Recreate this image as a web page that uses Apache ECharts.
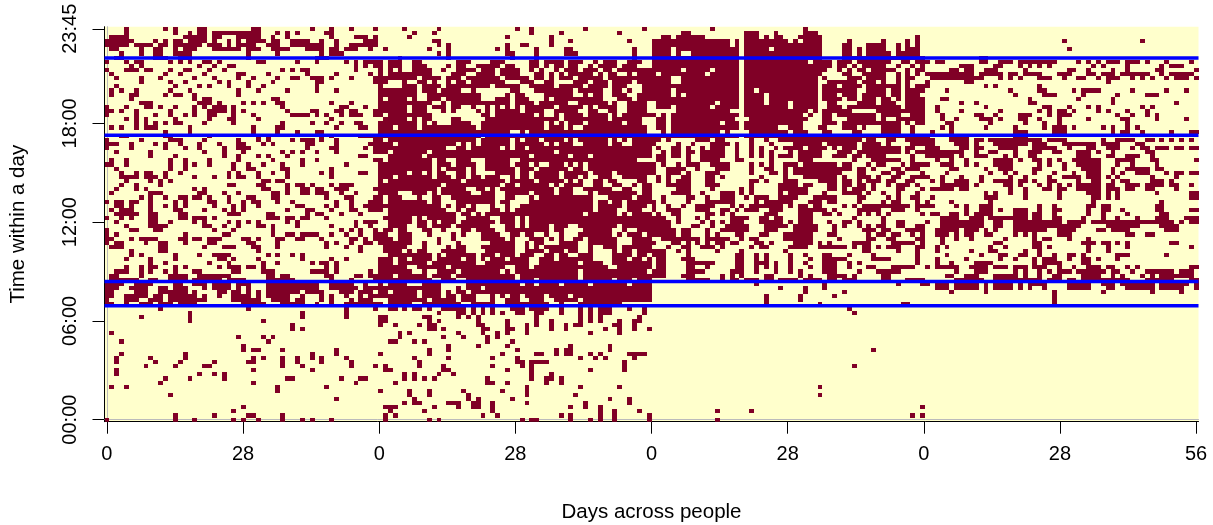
<!DOCTYPE html>
<html><head><meta charset="utf-8">
<script src="https://cdn.jsdelivr.net/npm/echarts@6/dist/echarts.min.js"></script>
<style>html,body{margin:0;padding:0;background:#fff}#c{width:1213px;height:525px}</style>
</head><body><div id="c"></div>
<script>
const xTickValues=[0,28,56,84,112,140,168,196,224];
const xTickLabels=["0","28","0","28","0","28","0","28","56"];
const yTickValues=[0,24,48,72,95];
const yTickLabels=["00:00","06:00","12:00","18:00","23:45"];
const blueLevels=[87.9,69.1,33.55,27.7];
// Dark cells of each row, top row (23:45) first, as column runs.
const darkRows=[
"4 12 14 19-20 30-31 42 46 50 55 61 68 84 87 98 110 124 143",
"4 14 17 19-20 22-31 35 37 39 45-46 63 67 87 93 105 118-119 131-133 137 143-145",
"1-4 16-20 22-23 27-31 34 37 46 51-53 55 62 82 91 114-115 117-122 131-133 135 137-138 142-146 166",
"0-5 10 12 14-15 17-20 22 25 27 29-32 34-35 38-41 44 47 53-55 67-68 91 95 107 112-127 129 131-139 141 143-146 152 159 164 166 196 212",
"0-4 6-9 11-12 14-19 21-23 25 27-30 33-35 38-44 47 50-55 68 70 82 85-86 91 112-127 129 131-146 151-152 156-159 162 164 166",
"1-2 7 10-11 14 16-18 22-27 29-31 34-37 41-44 46-47 49-51 54 57 66 70 80 82 88 94-95 108 112-115 117-129 131-135 137-146 151-152 154 156-159 162 164-166 197",
"3 7 10-11 14-17 29 35 44 46-48 68 70 82-83 88 94-96 108 112-115 117 120-129 131-146 151-152 154 156-160 162-166",
"2-3 10-12 15-17 29 43-45 60 70 83 88 108 112-129 131-146 151-167 179-180",
"0 4 6-7 13 15 17 20-21 23 31-32 39 43 49 51 53-55 56-168 170-171 179-180 183-185 187-194 199 201 203 205-207 209-211 213 217 222",
"5 7 19 22 25-26 51 53 55 56-168 175-177 182-183 187 189 191 193 202 204 209 216 218-220",
"0 4-6 8-9 13 16-17 21 24 36 38 40-41 51 56-168 173-174 176-177 180-182 188 197-198 201 206 209 215-216 223",
"1 12 15 20 27-28 33 41 47 54 56-168 169-177 179-183 185-186 188-191 195-197 201-202 204-206 208-213 216 218-222",
"2 7 11 18 22 27 30 35 38-39 42-44 46 50 55 56-168 169-179 183 185 187 191-193 196 199-200 203 205-207 210 212 214 217 219-221 223",
"7 13 16 23 25 29 34 43-44 55 56-168 176-177 205",
"2 14 19 21 25 29 32 43 56-168 180 182 191",
"1 3 6 13 17 27 31 37 43 47 56-168 172 185 191-192 198 200-203 210 217 221",
"1 5-6 12 14-15 18 27 56-168 186 192-194 200 207 213-215",
"5 18 20-21 34-35 56-168 171-172 189 199 206",
"7-9 19-21 23 28 30 32 35-36 46 50 56-168 175 178 189-190 206 219",
"0 4 8-9 11 14 18 20 22-24 26 36 48-49 53 56-168 170 180 192-193 197 201 203 212 214",
"0-1 3 6 13 18 21-24 26 28 37 42-43 47-48 50-51 55 56-168 170 175 183 191 193 195-196 198 203 205 209 213",
"0 6 10 13 16 18 21-22 26 30 38-41 43 45 48 50-52 55 56-168 171 178-179 182 187-189 193 195-197 207 210 213 215",
"4 6 8 14 21 25-26 31 46 56-168 171 174 179-181 183 187-188 191 195 201 208-209 215 221",
"6 8 10 12 14-15 20 26 36 42 45 48 51-52 56-168 172-173 181 188 192 195 209",
"1 3 6 8-10 17 30 35-36 47 52-53 56-168 171 173 180 186 192 194-196 198 204 206 209 211",
"12 17 30 35 39 43-44 56-169 173 186-188 194-196 206 208-209 212 218 222-223",
"3-4 12-13 21 31 33 44 46 52-55 56-168 173-176 186-188",
"0 7 13-15 20 27 31 33 38 40-42 44 47 55 56-169 173-176 178-179 181-191 193-196 204 207-210 213-214 216 218 220 222",
"0-2 5 10 12 15 19 23 27-28 32 34 41-42 47 54-55 56-169 174-176 178 182-188 190-192 196-202 204-207 211-212",
"0 5 12 16 19 24 27-29 41 46-47 53 55 56-170 175-176 178-179 183-186 190-194 197 201-202 205-207 210 212-213 215-217 219-220 222-223",
"2 9 20 24 28 36 38 40 43 47 55 56-175 178 181-182 186 189-191 194-195 199-201 203 206 213-214",
"9 14 24 27 31 33 37 52-53 56-173 175 178-180 184 186 189-190 199-201 205-206 209-211 214",
"1 4 13 16 21 27 34 40 43 55 56-168 170 173 176 182-185 187 190-191 193 195 198-203 207-210 214-215 223",
"0-1 4 13 16 18 21 26 29 32 36 40 49 56-168 171-173 176 178 182-185 191 193 196 199-203 207 210 215",
"2 13 16 26 29-30 36-37 46 56-168 173-174 180 183-185 190-191 196 200-203 206 209-213 215-216",
"3 6 8-9 12 15 25 27 31 34 37 44 46 52-53 56-168 172 181 184 186 190 194 198 201-203 206 208 211-213 217 219-220 222-223",
"3-6 8-10 12 18 22 25 27-28 31 37 46 56-168 171 175 179 185 188 193 196-199 201-203 205 207 214 219",
"4 9 11 13 32-33 35-36 56-169 171 174-176 179 182-185 187-188 190 193-194 199 202-203 206 208-209 214-216 218",
"3 6 11 25-26 31-32 37 39-40 42 46 48-50 56-168 171-176 178 184-185 187 191 193 195 197 199-203 205-206 209-211 213-216 218-219 222",
"2 6 8 18 20 32-33 37 40-41 43-44 47-49 55 56-173 175-176 185 188 192-193 195-196 199-203 205-207 209-210 213-214 219",
"1 9-11 19-20 24 27 34-35 37 40-41 43-45 48 51 56-168 180 182 185 188 195 201-203 205 207 215 222-223",
"7 9 12 15-16 18-19 21 25 29-30 34-35 45 49-50 55 56-169 180-182 188 195 202-203 205 207 222-223",
"0 2-3 5-6 9 14 16 21-22 25 28 30-31 35 38 47 50 54-55 56-168 173 181 202 216",
"2-3 5 9 12 14 16 22 26 28 31 39-40 45 47 50 53-55 56-169 174 176 179-181 191 194 201-202 204-205 215-216",
"1 3-5 9 14-15 20 24 26 28 37 41-42 46 50-51 54-55 56-168 176 179-181 183 186-188 191 194-195 201 204-205 208 215-216 222-223",
"2-6 9-10 15-16 25-27 33-34 41 43-44 48 52 56-170 173-174 176 178-181 186-188 190-191 194 201 204 209 216-217",
"0 3 5 9-10 15-16 18-20 22 33-35 37-38 40-41 45 56-168 171-174 177-179 181-184 185-188 190-191 194-195 200 204 207 211 215-217 221-223",
"2 9-10 13 18 20 25 27 29 31 37 39 51 53-55 56-168 171-179 182-183 186-195 197-200 202-214 215-218 220 222-223",
"4 9-12 20-21 24 27 31-32 34 39 46 51 54 56-168 171-179 182-183 186-199 205-211 216-219",
"0 5-6 10-11 22 26 34 48 50 52 55 56-168 170-174 176-178 180 182 186-192 195-198 203-204 206-209 217-219",
"0 2 16 24-25 34 37-38 40-43 46 49 52 55 56-168 170-172 174 176-177 180-181 186 188 190 195-197 209-210 213-214",
"0-1 5 7-10 15-16 18-19 21-23 28-29 31 35-36 39-40 44 50-51 53 55 56-167 171 174 177 184 190 192-193 197 201",
"0 2-3 8 11-12 16 21-22 29-30 35 45 47 50 53-54 56-167 171 182-183 190-191 200-202 204-205 207 209 218-219",
"1-3 11-12 20 24-26 30-31 35 45 49 52 56-167 170 172 181 184 190-191 193 201 205 209 222",
"5 11-12 31 52 56-114 117 119 125 130 139 155-156 162 166 170 177 181-182 188 191 201 205",
"5 7 14 19 22-25 33 35 38 40 56-114 119 129-130 133 135 140 143 147-148 152 157 166 172 179 183-184 187-188 191 194 197-198 200 207-209 217",
"4 9 14 23-24 26 31 40 46 49 56-111 113-114 118-120 129-130 133 135 140 144 147-151 157-160 166 170 176 183 186 190 192-194 197 200-201 203 207",
"9 12 21 25 32 35 42 44-45 47 56-111 113-114 119-124 129-130 133-135 137 140 143 147-149 152 154 166 170 173 178-181 190 192-195 200-201",
"4 7 9-10 14 16 23 25-27 29-30 32 45 47 56-111 113-114 119-120 123 129-130 133 135 137 140 144 147-149 152 156-157 161-165 168 170-174 177-180 182-184 186-188 190-192 195 198 201-203 205-206 209 211 222-223",
"2-4 7 9 12 14 18-19 26-27 32-34 42-45 47 54 56-111 112-114 119-122 128-130 133 137 140 142 147-149 154 158-162 174 178-180 186 188 191 193 195-197 199-204 206-207 210 213-218 220-222",
"1-2 7 13-16 19-25 33-34 36-37 45-46 51-52 54-55 56-114 118-120 126 128 130 135-136 142 144 148-151 153 159-160 172-173 176-178 182-186 188 191 194-195 200-203 206 208 212 214 216-222",
"1-6 9-10 13-16 18-23 25-28 33-38 46 50 55 56-111 119-123 126 128-129 131-133 135-136 138-141 143-146 148-149 151-153 159-160 164-167 174-179 182-191 193-195 197-198 200-209 213-218 222-223",
"0-3 6-9 14-15 18-20 22-25 27-29 33-43 46-50 53 56-111 133 147 162 167-168 170-172 174-178 180 182-185 187 189-192 197-201 204-206 208-214 216-221 223",
"0-2 5-8 11-12 14-16 20 22-25 27 29 33-43 46-51 53-55 56-111 138 143 147 170-172 174-178 180 182-185 187 189 192 197-201 205-206 209-214 216-220 223",
"0-1 6-8 11-16 18 23-24 26-27 29 31 33-39 41-44 48-50 52-54 56-111 143 151 173 180 194 204 214 220",
"0-1 4-8 10-11 13-18 20 23 26-29 31 33-37 40 44 46 49 52 54-55 56-111 135 142 149 194",
"0 4-6 9-11 13-19 20 26-31 34-37 39-40 44 46 50 52-54 58-71 73-77 79 82-85 87-90 92-110 111 135 142 194",
"0-1 4 7-9 11-13 15-18 28-32 36-40 43 46 49-56 58-62 65-72 75-79 82-90 93 97-105 135 146 163-164 194",
"11 29 49 55 58-59 61 63-64 66 69-73 75 77 79 83-85 87-90 93 97 99 101-103 107 110 152",
"17 40 49 68 72-73 75 77 79 81 84-85 88-89 93 97 99 101-103 110 153",
"7 17 40 49 56-57 65-66 72 74 76 88 97 99 101 109",
"17 32 56-57 66 68 76 82 88 91 97 99 101 105 108-109",
"38 56 59 64 66-67 76-77 82 86 88 91 94 96-97 104-105 108",
"38 40 66-67 69 77-78 82-83 86 91 94 102 105 108 111",
"1 60 62 72 77 80 82 86 99 105",
"27 32 34 60 69 73 78 80",
"3 33 58-59 63 65 78 83",
"28 70 76 82 95 103",
"28 30-31 36 47 66 70 84 92 94-95 103 157",
"3 16 42 47 56 66 81 88-89 92 94-95 99 101 107-110",
"2 9 16 30 32 36 39 42 44 49 63 70 79 84 97 100 102 108",
"2 10 15 22 29-30 36 39 44 50 64 84-85 87-90 106",
"8 14 20-21 36 40 50 55 57 64 69 79 85 87 106 153",
"2 30 42 57-58 69-70 82 87 99 106",
"2 19 22 24 61 63 68 71 87 91",
"12 17 24 37-38 48 52-53 61 63 65 67 78 87 90-91 93",
"11 30 51 59 78-79 82 90 93",
"1 4 35 45 86 97 105 146",
"35 56 62 66 73 81 86",
"13 62 66 74 86 96 146",
"47 63 74 76 83 103 107",
"61 63-64 70-72 75-76 79 86 98 107",
"28 57-59 67 72 75-76 79 95 98 101 167",
"26 58 65 79 101 104 109 125 132",
"14 22 29-30 36 57 59 77 80 93 95 101 104 111 165 167",
"0 14 18 26 28 31 36 40 42 46 57 66 68 85 87-88 95 99 101 104 111 125"
];
// Light cells inside the dense runs of rows 23:45 downward.
const gapRows=[
"","","","","","","",
"130 147-150",
"57 61-62 65-71 75-78 82-86 89 94 98-99 101 105-106 110-111 130 144 149 153 161-162 165",
"57 61-62 66-69 71 74-75 81 84-86 89 91 94 97-98 100 105 109-111 130 149 152 154 160-161 163-164 166 168",
"57 59 61-62 67-68 70-71 76 80 85-86 88 90-91 93 97 101 104 118 124 130 148-149 151 153 156 162-163 165 168",
"57 67-70 74-75 80 85-87 90 92 94 100 102 105-106 108 113 123 130 147-150 153-154 160-161 163 165 167",
"64 69 73 81 87 90 92 96 102 116-117 130 146 148-151 155 160-161 163 166-168",
"58-60 62-63 66 68-69 71 74 82-84 88-89 92-95 99 103 108 116-117 130 146-147 154 158 160-161 163 165-167",
"57 58-60 64 69 79 85-86 92 98 103 107-109 130 146 150 155 163 165",
"64 68 73-74 76-82 85-87 96 102-103 106 108-109 116 130 133 146 154-155 160 163 168",
"64-65 77-81 83 86-89 96-97 99 102-103 107-108 116 118 130 135 146 150 154 160 163 167-168",
"57 62 64-65 69 77-79 83 87-89 91 102-104 108 130 135 146 151 154 158 161 163 168",
"67-68 70 83 88 95-96 103 105-106 111-112 125 130 135 140 146-147 150-153 158 162-163 168",
"62 66 70 73-74 76-77 79 81 83 85 92 98 100 105-106 111-112 116 124 130 140 146-147 151 163 168",
"62 66-68 70 72-75 77 79 85 90-91 97-98 101-102 105-106 111-116 128-130 144 146 153-157 168",
"57 67-76 79 88 90-91 93 98 103 105 113 115 130 143 145-146 149 158 163-164 168",
"56 62 64 67-70 73-77 93 103 110-112 115 129-131 144-146 149-151 158 160-161 168",
"64 66 68-70 75-76 90 92 94 98 106 110-112 115 126 130 143-146 150 163 165 168",
"59 64 76 90 94 96-97 111-112 115 130 138-139 143-145 148-150 154 156-158 163-164 166-168",
"83-84 86 111-113 115 126 128-131 140 144-146 149-152 155-158 163-164 166-168",
"77 130",
"57 76 83 85 89 94 96 103 105 107 114 116-119 120 124 127-129 130-131 133-134 136-137 155 158-159 162-163",
"59 72 74 76 83 90 92 96-97 103 106-107 113-116 118-119 121-123 128 130-131 133-135 137-140 147 154 159 161-164",
"70-71 74 81 83 86 112 114-115 118 120-121 123 127-128 130-131 133 135-136 138 143 148 150 154 163 166-167",
"58 66 92 112-113 115 118 121 127-128 130-131 133 135 137-139 141 147-149 153 163 165",
"56-57 65 87 95 99 112 115 118 120-121 127-128 130-131 133 135 137 141 147-148 152 155 160-164 166-167",
"57 67 70-71 75-77 83-84 109-112 115-118 120-121 126-128 131-135 137-141 145-152 154-156 163-164 166-168",
"67 71 76-77 83 87 89-90 94 96 98 113 115-116 118 122-123 128-131 133 135 137-138 142 150 153-155 157 160-162 164",
"67 69 74 76-77 84 88 95 98 113-114 119-120 122-124 128-131 133-134 137-138 140 153 156 158-160 163 167-168",
"62 65 67 70-71 74 76-79 84 87 93 99 104 113-114 118 120-122 126-131 133-135 138 140 151-153 156-158 161 164-166 168",
"59 67 71 74 77 81-82 84 87 93 97 99-100 104-105 111-112 114 116-117 120-122 125 127-133 135-138 140-142 150 152-153 157 159-160 163-164",
"57 73 82 88 94 96 98-99 102 105-108 111-112 114 116 120-122 125-131 134 136-138 142-145 150 153 155 159 162-163 166-168",
"69 81 84 91 93 98-99 102-103 106-107 109 112-114 120-122 126-131 133-137 142 145-147 150 153 156 158-159 161 165 167-168",
"68 74-75 78 80 92 96-97 104-105 108-109 112-116 120-123 125-129 131 133-137 144-147 150 152 156 158-161 164-166 168",
"60-62 66 68 75-76 80-81 87 92 96-98 100 109 112-115 120-121 123-125 129 131 133-137 139 144-146 148-150 155 157-158 160-161 163-165 167-168",
"57 61-63 65-66 69-70 80-81 84-86 88 100-102 108 112-113 115-118 121-122 124-125 129-130 132 136-137 142-144 150-153 156-159 161 163-164 167-168",
"57 66 69-71 80 83-86 100 103 106 113 115-118 120-122 129-132 134 141-143 147 150-153 155-158 160 163-165 167",
"69 71 74 76-78 80-81 83-84 100 106 111 113-114 116-117 119-120 125-127 129 131 139 141 144 147-150 152 154 165",
"57 70-71 73 76-78 81 83 100 105-106 110-111 113-114 118-120 124-125 128 130 134-135 139-141 148 150-153 159-160 164-165 167-168",
"56-57 72 75 77 98 105 107 112 114-115 118-122 125 127 129-134 138-141 145-146 149 151-153 155 157 159 161-166 168",
"56 63 65 72-73 79-80 84 86 115-116 118-120 122 124-127 132-133 136 139-141 145-152 154-158 160-168",
"56-57 63 66 68 72 80 84 86 116 118-121 123 125 127 131-133 139 141 145-147 149-150 153 155-158 160-161 164-167",
"56-57 62-63 66 71 79-81 84 86 91 95-96 105 116-119 122-123 125-126 132-134 140 146-148 150 152-153 155 157 160-161 164-165 168",
"56 59 62-64 67-68 70-72 75 80-81 91 94-97 104-105 107-108 117 120-122 124-125 132-134 138-140 146-148 150-154 158 161-163 168",
"58-59 63-65 67-70 72 74-76 81-82 85 88-89 91-92 94-96 104 106 110 117 120-122 124 126-128 131-133 136-138 145-147 150-155 157 160 163-164 166 168",
"59 63-67 69-70 72-76 82 84-86 90 92 94-95 98 105-107 112-113 122 128-129 131 134-138 145-149 151-155 158-159 162-165",
"63-64 66-67 69-71 73-78 84-85 87 90-92 97-98 105-107 113-115 118 120 122 124 127 130-132 135 137-140 145 147 149-152 157-160 166",
"56 62-64 66-69 71 74-76 84-85 87 89 97-98 100-101 105 112-114 116-117 120-121 125 127-131 133 136-139 144-145 152 154 157 159 163-165",
"56 61 63 66-68 74-77 84-85 90 94 97-98 100-103 105 108",
"56-57 67 69 76 80 84 88-89 92 95-96 100-103 108 111",
"59 62 67 73 76 78 82 87-88 92 100-103 107 110",
"59 66 76-77 87-88 97 102-103",
"62-63 70 82-83 87 103-104",
"63-64 66-67 72 81 83 97 111",
"59 66 71 84 97",
"67-68 72-73 84 88 97 104 108",
"57 62-64 69-73 85 88 93 99 107",
"69-71 73 77",
"58 64 69 71 74",
"64 69 72 76-78 80 82 85 90 95",
"66 76-78 85 90 97"
];
const xCats=[]; for(let i=0;i<224;i++) xCats.push(String(i));
const yCats=[]; for(let i=0;i<96;i++) yCats.push(String(i));
function parseRuns(s){const set=new Set();(s||"").split(" ").forEach(t=>{if(!t)return;const p=t.split("-");const a=+p[0],b=p.length>1?+p[1]:a;for(let i=a;i<=b;i++)set.add(i);});return set;}
const cells=[];
darkRows.forEach((s,idx)=>{const d=parseRuns(s),g=parseRuns(gapRows[idx]);const r=95-idx;for(let k=0;k<224;k++){if(d.has(k)&&!g.has(k))cells.push([k,r]);}});
function renderCell(params,api){
  const c=api.coord([api.value(0),api.value(1)]);
  const s=api.size([1,1]);
  const x0=Math.round(c[0]-s[0]/2),x1=Math.round(c[0]+s[0]/2);
  const y0=Math.round(c[1]-s[1]/2),y1=Math.round(c[1]+s[1]/2);
  return {type:'rect',shape:{x:x0,y:y0,width:x1-x0,height:y1-y0},style:{fill:'#800026'},silent:true};
}
const font='"Liberation Sans",Arial,Helvetica,sans-serif';
const chart=echarts.init(document.getElementById('c'),null,{renderer:'canvas'});
chart.setOption({
 animation:false,backgroundColor:'#fff',
 grid:{left:104.5,right:14.5,top:26.7,bottom:103.3,show:true,backgroundColor:'#FFFFCC',borderWidth:0,containLabel:false,outerBoundsMode:'none'},
 xAxis:[
  {type:'category',data:xCats,position:'top',axisLine:{show:true,lineStyle:{color:'#bbbbbb'}},axisTick:{show:false},axisLabel:{show:false},splitLine:{show:false}},
  {type:'value',position:'bottom',min:-0.5,max:224.5,axisLine:{show:true,onZero:false,lineStyle:{color:'#000',width:1}},splitLine:{show:false},
   axisTick:{show:true,length:12,lineStyle:{color:'#000',width:1},customValues:xTickValues},
   axisLabel:{show:true,margin:23,fontFamily:font,fontSize:20,color:'#000',customValues:xTickValues,hideOverlap:false,showMinLabel:true,showMaxLabel:true,
     formatter:v=>xTickLabels[xTickValues.indexOf(v)]},
   name:'Days across people',nameLocation:'middle',nameGap:80,nameTextStyle:{fontFamily:font,fontSize:20.5,color:'#000'}}
 ],
 yAxis:[
  {type:'category',data:yCats,position:'right',axisLine:{show:true,lineStyle:{color:'#bbbbbb'}},axisTick:{show:false},axisLabel:{show:false},splitLine:{show:false}},
  {type:'value',position:'left',min:-0.5,max:95.5,axisLine:{show:true,onZero:false,lineStyle:{color:'#000',width:1}},splitLine:{show:false},
   axisTick:{show:true,length:12,lineStyle:{color:'#000',width:1},customValues:yTickValues},
   axisLabel:{show:true,margin:24,rotate:90,fontFamily:font,fontSize:20,color:'#000',customValues:yTickValues,hideOverlap:false,showMinLabel:true,showMaxLabel:true,
     formatter:v=>yTickLabels[yTickValues.indexOf(v)]},
   name:'Time within a day',nameLocation:'middle',nameGap:76,nameRotate:90,nameTextStyle:{fontFamily:font,fontSize:20.5,color:'#000'}}
 ],
 series:[
  {type:'custom',xAxisIndex:0,yAxisIndex:0,data:cells,renderItem:renderCell,silent:true,clip:true,encode:{x:0,y:1},z:1,progressive:0},
  ...blueLevels.map(v=>({type:'line',xAxisIndex:1,yAxisIndex:1,data:[[-0.5,v],[224.5,v]],symbol:'none',silent:true,lineStyle:{color:'#0000FF',width:3.5},z:5}))
 ]
});
</script></body></html>
